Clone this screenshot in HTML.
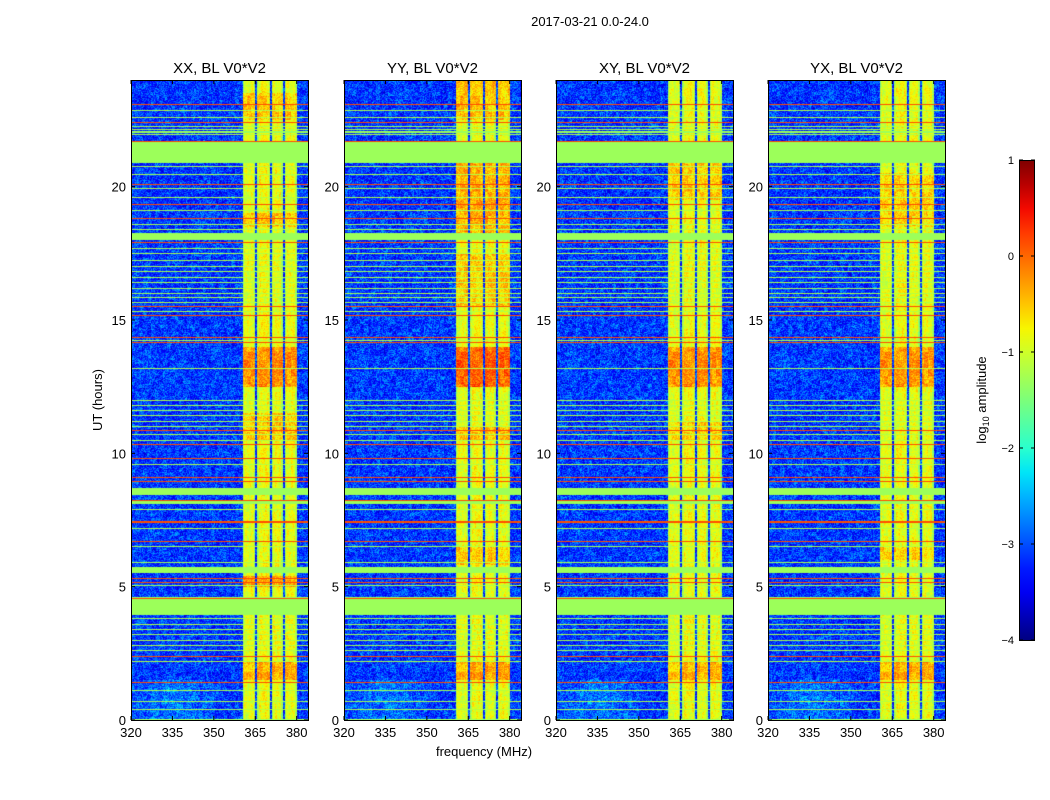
<!DOCTYPE html>
<html><head><meta charset="utf-8"><style>
body{margin:0;background:#fff;width:1050px;height:800px;overflow:hidden;font-family:"Liberation Sans",sans-serif}
#wrap{position:relative;width:1050px;height:800px}
canvas{position:absolute}
svg{position:absolute;left:0;top:0}
</style></head><body>
<div id="wrap">
<svg id="svg" width="1050" height="800"></svg>
</div>
<script>
const panelTitles = ["XX, BL V0*V2","YY, BL V0*V2","XY, BL V0*V2","YX, BL V0*V2"];
const panelLefts = [131,344,556,768];
const xTicks = [320,335,350,365,380];
const yTicks = [0,5,10,15,20];
const cbTicks = [1,0,-1,-2,-3,-4];
const flagBands = [[20.9,21.7],[18.0,18.25],[8.45,8.7],[8.1,8.25],[5.5,5.75],[3.95,4.6],[0,0.05],[22.0,22.1]];
const flagLines = [22.85,22.6,22.25,22.15,21.95,20.75,20.45,19.95,19.6,19.1,18.6,18.4,17.7,17.5,17.25,17.0,16.8,16.6,16.4,16.2,16.0,15.85,15.65,15.3,14.25,13.2,12.0,11.8,11.6,11.4,11.2,11.0,10.7,10.5,9.6,7.9,7.2,6.5,5.9,5.05,3.8,3.6,3.4,3.2,3.0,2.8,2.6,2.2,1.1,0.7,0.4];
const rfiLines = [23.1,22.4,21.7,20.1,19.35,18.8,17.9,15.5,15.15,14.36,14.17,10.85,10.35,9.8,9.08,8.95,8.25,7.46,7.4,6.7,5.3,5.15,4.57,2.37,1.4];
const rfiChannels = [[360.6,365.0,-0.9],[365.7,370.4,-0.8],[371.0,375.0,-0.85],[375.8,380.0,-0.85]];
const hotXX = [[12.5,14.0,-0.25],[1.5,2.2,-0.4],[18.5,19.0,-0.5],[10.5,11.5,-0.55],[5.0,5.4,-0.35],[22.5,23.5,-0.55]];
const hotYY = [[12.5,14.0,0.0],[18.0,21.0,-0.4],[15.5,17.5,-0.55],[10.5,11.0,-0.5],[5.8,6.5,-0.55],[1.5,2.2,-0.35],[22.5,24,-0.5]];
const hotXY = [[12.5,14.0,-0.25],[19.5,21.0,-0.55],[1.5,2.2,-0.45],[10.5,11.2,-0.6]];
const hotYX = [[12.5,14.0,-0.3],[18.5,20.5,-0.6],[1.5,2.2,-0.4],[6.0,6.5,-0.6]];
const hotPeriods = [hotXX,hotYY,hotXY,hotYX];
const flagValue = -1.3, rfiLineValue = 0.15, noiseBase = -3.1;
const vmin=-4, vmax=1;

const W=177,H=640,TOP=80,FMIN=320,FMAX=384.1;
function interp(seg,x){for(let i=1;i<seg.length;i++){if(x<=seg[i][0]){const a=seg[i-1],b=seg[i];return a[1]+(b[1]-a[1])*(x-a[0])/(b[0]-a[0]);}}return seg[seg.length-1][1];}
const R=[[0,0],[0.35,0],[0.66,1],[0.89,1],[1,0.5]],G=[[0,0],[0.125,0],[0.375,1],[0.64,1],[0.91,0],[1,0]],B=[[0,0.5],[0.11,1],[0.34,1],[0.65,0],[1,0]];
function jet(v){let x=(v-vmin)/(vmax-vmin);x=Math.max(0,Math.min(1,x));return [interp(R,x)*255,interp(G,x)*255,interp(B,x)*255];}
function hash(a,b){let h=(a*374761393+b*668265263)|0;h=(h^(h>>>13))*1274126177|0;return ((h^(h>>>16))>>>0)/4294967296;}
const hy=y=>TOP+H*(1-y/24);
const fx=(l,f)=>l+W*(f-FMIN)/(FMAX-FMIN);

const wrap=document.getElementById('wrap');
panelLefts.forEach((left,p)=>{
  const c=document.createElement('canvas');c.width=W;c.height=H;c.style.left=left+'px';c.style.top=TOP+'px';
  
  
  wrap.insertBefore(c,wrap.firstChild);
  const ctx=c.getContext('2d'),img=ctx.createImageData(W,H);
  for(let y=0;y<H;y++){
    const h=24*(1-(y+0.5)/H), h2=24*(1-(y+1)/H), h1=24*(1-y/H);
    const inRange=(a,b)=>h>=a&&h<b;
    let flag=flagBands.some(b=>inRange(b[0],b[1]));
    let fl=flagLines.some(t=>t<=h1&&t>h2);
    let rl=rfiLines.some(t=>t<=h1&&t>h2);
    let hot=-9;hotPeriods[p].forEach(q=>{if(inRange(q[0],q[1]))hot=Math.max(hot,q[2]);});
    for(let x=0;x<W;x++){
      const f=FMIN+(FMAX-FMIN)*(x+0.5)/W;
      const n=hash(x+p*1000,y);
      let v=noiseBase+(n-0.5)*0.9+(hash(x>>2,y>>2)-0.5)*0.4;
      if(f<350&&h<1.5)v+=0.25*(1-Math.abs(f-335)/15)+0.1;
      const ch=rfiChannels.find(r=>f>=r[0]&&f<r[1]);
      if(ch){v=ch[2]+(n-0.5)*0.45+(hash(x>>1,(y>>3)+p*50)-0.5)*0.35;
        if(f-ch[0]<0.5||ch[1]-f<0.5)v-=0.35;
        if(hot>-9){v=hot+(hash(x,y+7)-0.5)*0.6+(hash(x>>2,y>>3)-0.5)*0.4;}}
      if(rl)v=rfiLineValue; else if(flag)v=flagValue; else if(fl)v=ch?flagValue+0.15:flagValue+(n>0.8?0.3:0);
      const col=jet(v),i=(y*W+x)*4;img.data[i]=col[0];img.data[i+1]=col[1];img.data[i+2]=col[2];img.data[i+3]=255;
    }
  }
  ctx.putImageData(img,0,0);
});

const svg=document.getElementById('svg'),NS='http://www.w3.org/2000/svg';
function el(tag,attrs,text){const e=document.createElementNS(NS,tag);for(const k in attrs)e.setAttribute(k,attrs[k]);if(text!==undefined)e.textContent=text;svg.appendChild(e);return e;}
function txt(x,y,s,size,anchor,name,rot){const e=el('text',{x:x,y:y,'font-size':size,'text-anchor':anchor||'middle','font-family':'Liberation Sans, sans-serif',fill:'#000'},s);if(rot)e.setAttribute('transform','rotate(-90 '+x+' '+y+')');return e;}
txt(590,26,'2017-03-21 0.0-24.0',13,'middle','figure-title');
panelLefts.forEach((left,p)=>{
  const r=el('rect',{x:left+0.5,y:TOP+0.5,width:W,height:H,fill:'none',stroke:'#000','stroke-width':1});
  
  txt(left+W/2,73,panelTitles[p],15,'middle','panel-title-'+(p+1));
  xTicks.forEach(v=>{const x=fx(left,v);
    el('line',{x1:x,x2:x,y1:TOP+H,y2:TOP+H-4,stroke:'#000'});el('line',{x1:x,x2:x,y1:TOP,y2:TOP+4,stroke:'#000'});
    txt(x,TOP+H+17,String(v),13,'middle','x-tick-label');});
  yTicks.forEach(v=>{const y=hy(v);
    el('line',{x1:left,x2:left+4,y1:y,y2:y,stroke:'#000'});el('line',{x1:left+W,x2:left+W-4,y1:y,y2:y,stroke:'#000'});
    txt(left-5,y+5,String(v),13,'end','y-tick-label');});
});
txt(484,756,'frequency (MHz)',13,'middle','x-axis-title');
txt(102,400,'UT (hours)',13,'middle','y-axis-title',true);
const defs=el('defs',{});const lg=document.createElementNS(NS,'linearGradient');lg.setAttribute('id','cb');lg.setAttribute('x1','0');lg.setAttribute('y1','1');lg.setAttribute('x2','0');lg.setAttribute('y2','0');defs.appendChild(lg);
for(let i=0;i<=20;i++){const c=jet(vmin+(vmax-vmin)*i/20);const s=document.createElementNS(NS,'stop');s.setAttribute('offset',i/20);s.setAttribute('stop-color','rgb('+c.map(Math.round).join(',')+')');lg.appendChild(s);}
const cb=el('rect',{x:1019.5,y:160.5,width:15,height:480,fill:'url(#cb)',stroke:'#000'});

cbTicks.forEach(v=>{const y=160+480*(vmax-v)/(vmax-vmin);
  el('line',{x1:1019,x2:1023,y1:y,y2:y,stroke:'#000'});el('line',{x1:1035,x2:1031,y1:y,y2:y,stroke:'#000'});
  txt(1014,y+4,v<0?'\u2212'+(-v):String(v),11,'end','colorbar-tick-label');});
const cl=txt(986,400,'',13,'middle','colorbar-label',true);
cl.innerHTML='log<tspan font-size="9" dy="3">10</tspan><tspan dy="-3"> amplitude</tspan>';
</script>
</body></html>
